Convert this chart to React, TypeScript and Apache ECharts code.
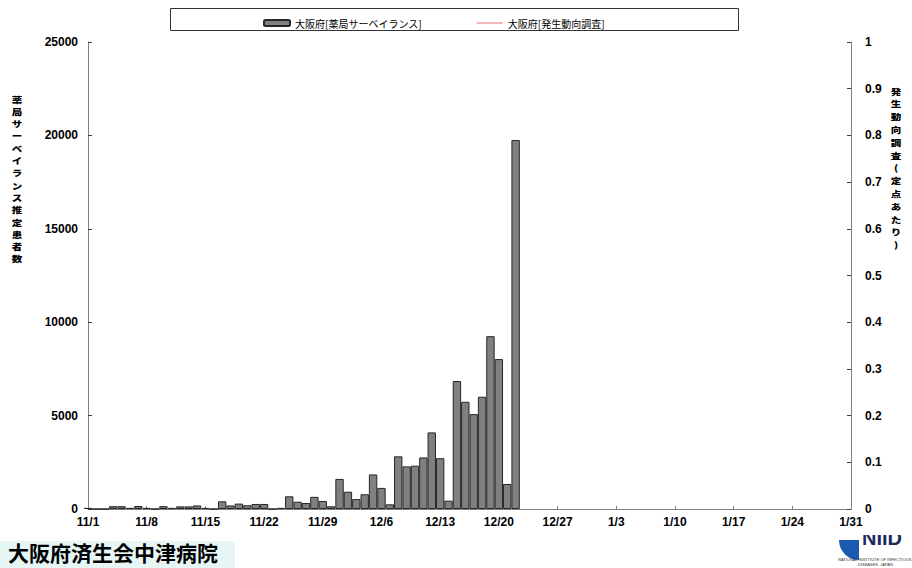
import React, { useEffect, useRef } from "react";
import * as echarts from "echarts";

// categories: every day from 11/1 to 1/31
const monthDays: [number, number][] = [
  [11, 30],
  [12, 31],
  [1, 31],
];
const categories: string[] = [];
for (const [m, n] of monthDays) {
  for (let d = 1; d <= n; d++) categories.push(`${m}/${d}`);
}

const tickLabels = [
  "11/1", "11/8", "11/15", "11/22", "11/29", "12/6", "12/13",
  "12/20", "12/27", "1/3", "1/10", "1/17", "1/24", "1/31",
];

// 大阪府[薬局サーベイランス] daily estimated patients, 11/1 .. 12/22
const pharmacyValues = [
  60, 0, 0, 150, 150, 60, 160, 60, 0, 150,
  60, 140, 140, 190, 60, 0, 410, 190, 290, 200,
  270, 270, 0, 60, 680, 390, 320, 650, 430, 145,
  1610, 925, 530, 790, 1850, 1130, 250, 2820, 2280, 2320,
  2760, 4100, 2720, 445, 6850, 5740, 5080, 6010, 9250, 8025,
  1340, 19750,
];

// 大阪府[発生動向調査] per sentinel – no values shown in this period
const surveyValues: (number | null)[] = [];

const leftName = "薬局サーベイランス推定患者数";
const rightName = "発生動向調査(定点あたり)";
const seriesNames = ["大阪府[薬局サーベイランス]", "大阪府[発生動向調査]"];

const barData = categories.map((_, i) =>
  i < pharmacyValues.length ? pharmacyValues[i] : null
);

function verticalText(str: string, x: number, y0: number, step: number) {
  return str.split("").map((ch, i) => ({
    type: "text",
    x,
    y: y0 + i * step,
    scaleX: 1.25,
    silent: true,
    style: {
      text: ch,
      fill: "#000",
      fontSize: 8.4,
      fontWeight: 900,
      fontFamily: "Noto Sans CJK JP",
      align: "center",
      verticalAlign: "middle",
    },
  }));
}

export default function App() {
  const ref = useRef<HTMLDivElement>(null);
  useEffect(() => {
    if (!ref.current) return;
    const chart = echarts.init(ref.current, null, { renderer: "svg" });
    const labelFont = {
      fontFamily: "Liberation Sans",
      fontWeight: "bold" as const,
      fontSize: 12,
      color: "#000",
    };
    const option = {
      animation: false,
      backgroundColor: "#fff",
      grid: { left: 88, right: 61, top: 42, bottom: 59, containLabel: false },
      legend: {
        left: 258,
        top: 13,
        itemGap: 55,
        itemWidth: 26,
        itemHeight: 6,
        data: [
          { name: seriesNames[0] },
          {
            name: seriesNames[1],
            icon: "path://M0,0H30V1H0Z",
            itemStyle: { color: "#e05a5a" },
          },
        ],
        textStyle: {
          fontSize: 10,
          color: "#000",
          fontFamily: "Noto Sans CJK JP",
        },
      },
      xAxis: {
        type: "category",
        data: categories,
        boundaryGap: false,
        axisLine: { lineStyle: { color: "#808080", width: 1 } },
        axisTick: {
          show: true,
          inside: true,
          length: 3,
          interval: (_: number, v: string) => tickLabels.includes(v),
          lineStyle: { color: "#808080" },
        },
        axisLabel: {
          ...labelFont,
          margin: 7,
          interval: (_: number, v: string) => tickLabels.includes(v),
        },
        splitLine: { show: false },
      },
      yAxis: [
        {
          type: "value",
          min: 0,
          max: 25000,
          interval: 5000,
          position: "left",
          axisLine: { show: true, lineStyle: { color: "#808080" } },
          axisTick: { show: true, inside: true, length: 4, lineStyle: { color: "#404040" } },
          splitLine: { show: false },
          axisLabel: { ...labelFont, margin: 10, formatter: (v: number) => String(v) },
        },
        {
          type: "value",
          min: 0,
          max: 1,
          interval: 0.1,
          position: "right",
          axisLine: { show: true, lineStyle: { color: "#808080" } },
          axisTick: { show: true, inside: true, length: 4, lineStyle: { color: "#404040" } },
          splitLine: { show: false },
          axisLabel: { ...labelFont, margin: 14 },
        },
      ],
      series: [
        {
          type: "bar",
          name: seriesNames[0],
          data: barData,
          barCategoryGap: "0%",
          itemStyle: { color: "#808080", borderColor: "#262626", borderWidth: 1 },
        },
        {
          type: "line",
          name: seriesNames[1],
          yAxisIndex: 1,
          data: surveyValues,
          symbol: "none",
          showSymbol: false,
          lineStyle: { color: "#e05a5a", width: 1 },
          itemStyle: { color: "#e05a5a" },
        },
      ],
      graphic: [
        {
          type: "rect",
          shape: { x: 170.5, y: 8.5, width: 568, height: 22 },
          style: { fill: "none", stroke: "#333", lineWidth: 1 },
          silent: true,
        },
        ...verticalText(leftName, 17, 99, 12.3),
        ...verticalText(rightName, 896, 91, 12.8),
        {
          type: "rect",
          shape: { x: 0, y: 541, width: 235, height: 27 },
          style: { fill: "#e6f6f5" },
        },
        {
          type: "text",
          x: 8,
          y: 552,
          style: {
            text: "大阪府済生会中津病院",
            fill: "#000",
            fontSize: 21,
            fontWeight: "bold",
            fontFamily: "Noto Sans CJK JP",
            align: "left",
            verticalAlign: "middle",
          },
        },
        {
          type: "sector",
          shape: { cx: 859, cy: 540, r: 20, startAngle: Math.PI / 2, endAngle: Math.PI },
          style: { fill: "#1b58b0" },
        },
        {
          type: "text",
          x: 862,
          y: 548,
          style: {
            text: "NIID",
            fill: "#1d2a5c",
            fontSize: 20,
            fontWeight: "bold",
            fontFamily: "Liberation Sans",
            align: "left",
            verticalAlign: "bottom",
          },
        },
        {
          type: "rect",
          shape: { x: 856, y: 526, width: 56, height: 9 },
          style: { fill: "#fff" },
        },
        {
          type: "text",
          x: 838,
          y: 559,
          style: {
            text: "NATIONAL INSTITUTE OF INFECTIOUS",
            fill: "#333",
            fontSize: 4,
            fontFamily: "Liberation Sans",
            align: "left",
            verticalAlign: "middle",
          },
        },
        {
          type: "text",
          x: 858,
          y: 564,
          style: {
            text: "DISEASES, JAPAN",
            fill: "#333",
            fontSize: 4,
            fontFamily: "Liberation Sans",
            align: "left",
            verticalAlign: "middle",
          },
        },
      ],
    };
    chart.setOption(option as any);
    return () => chart.dispose();
  }, []);
  return (
    <div
      ref={ref}
      style={{ position: "fixed", left: 0, top: 0, width: 912, height: 568 }}
    />
  );
}
